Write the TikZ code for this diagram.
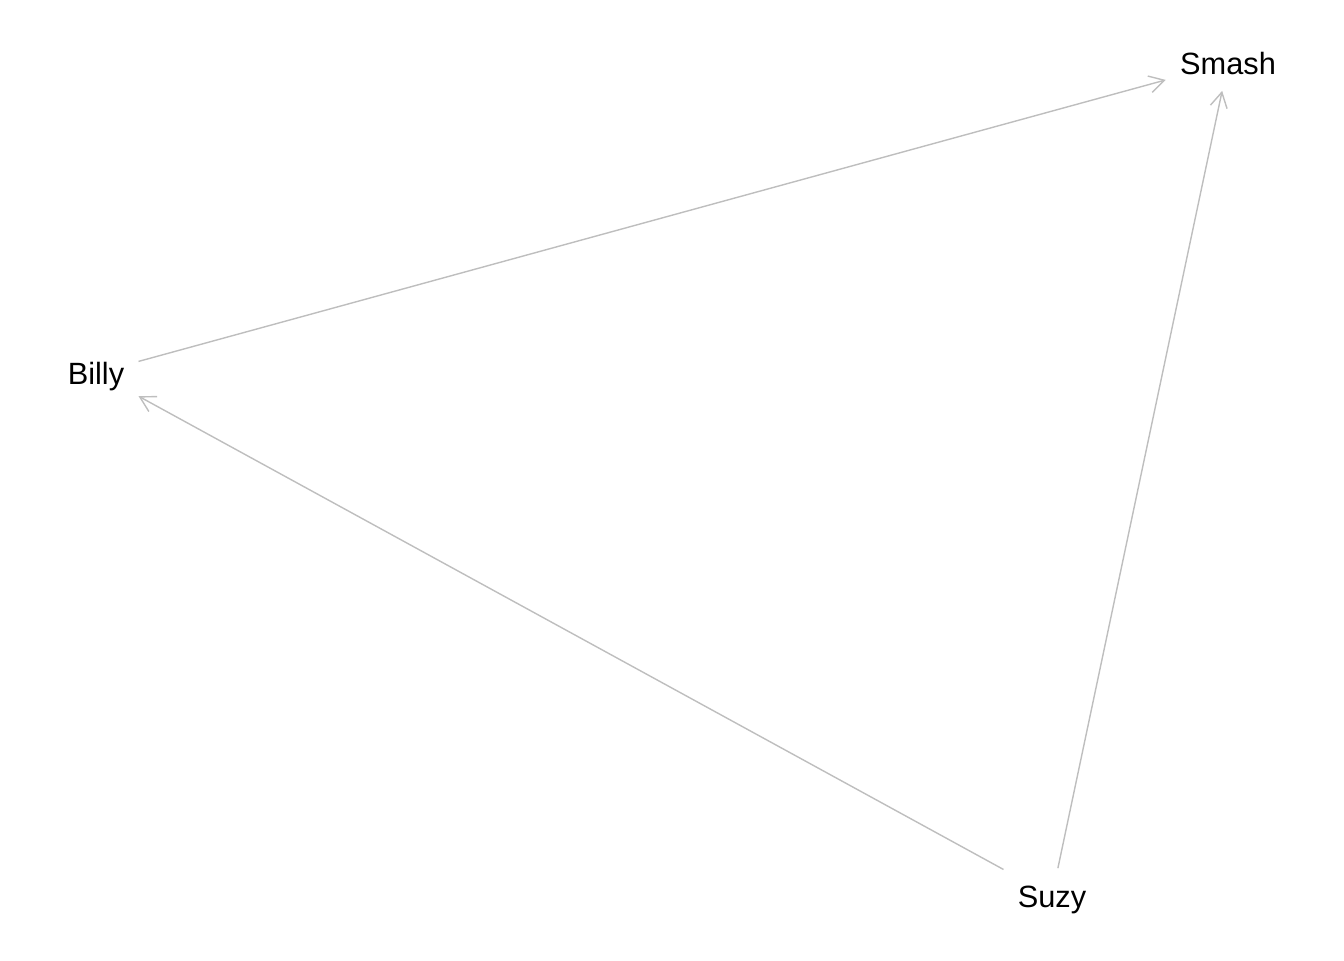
\documentclass[tikz,border=0pt]{standalone}
\usepackage{fontspec}
\setmainfont{Liberation Sans}
\usetikzlibrary{arrows.meta}
\definecolor{edgegray}{RGB}{190,190,190}

\begin{document}
\begin{tikzpicture}[x=0.02cm,y=-0.02cm,
    vertex/.style={rectangle,inner xsep=0.28cm,inner ysep=8.9pt,
      text height=13.5pt,text depth=0pt,font=\fontsize{17.5}{20}\selectfont},
    link/.style={draw=edgegray,line width=0.8pt,
      -{Straight Barb[length=0.3cm,width=0.34cm,line width=0.8pt]}}]
  \useasboundingbox (0,0) rectangle (1344,960);
  \node[vertex] (smash) at (1228,63) {Smash};
  \node[vertex] (billy) at (96,373) {Billy};
  \node[vertex] (suzy)  at (1052,896) {Suzy};
  \draw[link] (billy) -- (smash);
  \draw[link] (suzy) -- (billy);
  \draw[link] (suzy) -- (smash);
\end{tikzpicture}
\end{document}
